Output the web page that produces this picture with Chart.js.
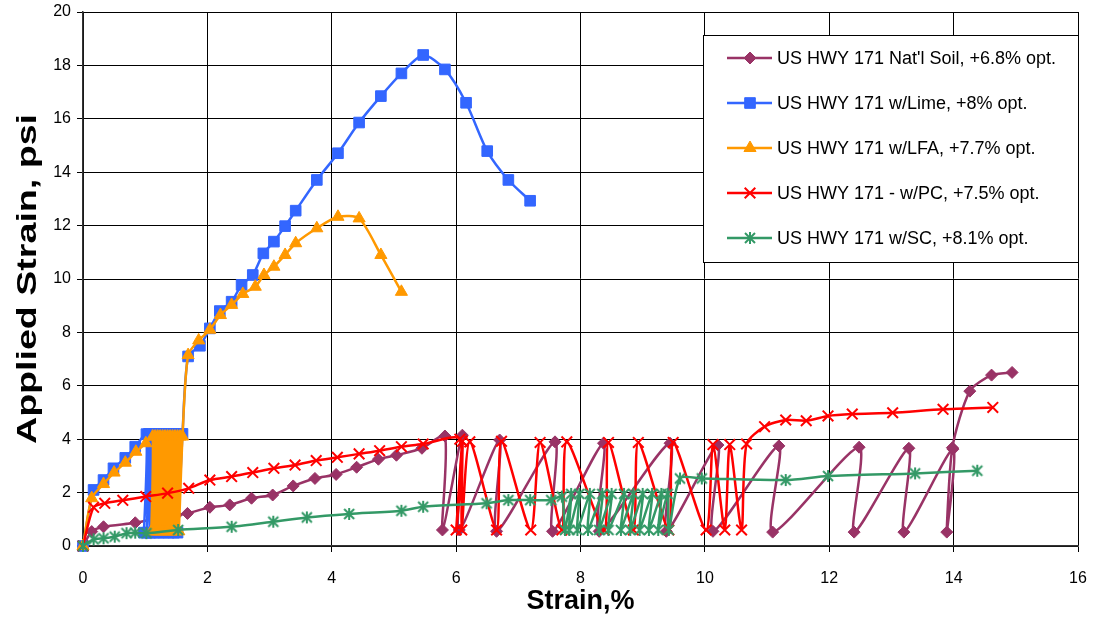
<!DOCTYPE html>
<html>
<head>
<meta charset="utf-8">
<script src="https://cdn.jsdelivr.net/npm/chart.js@4/dist/chart.umd.min.js"></script>
<style>
  html, body { margin: 0; padding: 0; background: #fff; }
  #wrap { width: 1097px; height: 618px; position: relative; }
</style>
</head>
<body>
<div id="wrap"><canvas id="chart" width="1097" height="618"></canvas></div>
<script>
// series labels
const seriesNames = [
    "US HWY 171 Nat'l Soil, +6.8% opt.",
    'US HWY 171 w/Lime, +8% opt.',
    'US HWY 171 w/LFA, +7.7% opt.',
    'US HWY 171 - w/PC, +7.5% opt.',
    'US HWY 171 w/SC, +8.1% opt.'
];

// Nat'l Soil (strain %, applied psi)
const soilX = [0, 0.14, 0.33, 0.84, 1.18, 1.5, 1.68, 2.04, 2.36, 2.71, 3.05, 3.38, 3.73, 4.07, 4.4, 4.75, 5.04, 5.45,
    5.82, 5.78, 6.1, 6.05, 6.7, 6.65, 7.59, 7.55, 8.37, 8.3, 9.44, 9.38, 10.21, 10.13, 11.19, 11.09, 12.48, 12.4,
    13.28, 13.2, 13.99, 13.89, 13.98, 14.26, 14.61, 14.94];
const soilY = [0, 0.54, 0.72, 0.87, 1.04, 1.16, 1.22, 1.45, 1.54, 1.79, 1.91, 2.25, 2.53, 2.68, 2.95, 3.25, 3.4, 3.66,
    4.12, 0.6, 4.15, 0.6, 3.97, 0.55, 3.9, 0.55, 3.85, 0.55, 3.85, 0.55, 3.78, 0.55, 3.75, 0.52, 3.7, 0.52,
    3.66, 0.52, 3.63, 0.52, 3.68, 5.8, 6.4, 6.5];

// w/Lime
const limeX = [0, 0.17, 0.33, 0.49, 0.68, 0.84, 1.02, 0.98, 1.06, 1.03, 1.1, 1.08, 1.16, 1.14, 1.24, 1.22, 1.32, 1.3,
    1.4, 1.38, 1.48, 1.46, 1.54, 1.52, 1.6, 1.69, 1.88, 2.04, 2.2, 2.39, 2.55, 2.73, 2.9, 3.07, 3.25, 3.42, 3.76,
    4.1, 4.44, 4.79, 5.12, 5.47, 5.82, 6.16, 6.5, 6.84, 7.19];
const limeY = [0, 2.1, 2.47, 2.91, 3.3, 3.72, 4.19, 0.5, 4.2, 0.5, 4.2, 0.5, 4.2, 0.5, 4.2, 0.5, 4.2, 0.5,
    4.2, 0.5, 4.2, 0.5, 4.2, 0.5, 4.2, 7.1, 7.5, 8.15, 8.8, 9.15, 9.78, 10.15, 10.96, 11.4, 11.98, 12.56, 13.71,
    14.71, 15.86, 16.85, 17.7, 18.39, 17.85, 16.6, 14.79, 13.71, 12.93];

// w/LFA
const lfaX = [0, 0.14, 0.33, 0.5, 0.68, 0.85, 1.01, 1.12, 1.1, 1.16, 1.14, 1.2, 1.18, 1.24, 1.22, 1.28, 1.26, 1.32,
    1.3, 1.36, 1.34, 1.4, 1.38, 1.44, 1.42, 1.48, 1.46, 1.52, 1.5, 1.56, 1.54, 1.6, 1.69, 1.86, 2.04, 2.21, 2.39,
    2.57, 2.77, 2.91, 3.07, 3.25, 3.42, 3.76, 4.1, 4.44, 4.79, 5.12];
const lfaY = [0, 1.79, 2.32, 2.75, 3.12, 3.53, 3.85, 4.1, 0.55, 4.1, 0.55, 4.1, 0.55, 4.1, 0.55, 4.1, 0.55, 4.1,
    0.55, 4.1, 0.55, 4.1, 0.55, 4.1, 0.55, 4.1, 0.55, 4.1, 0.55, 4.1, 0.55, 4.1, 7.15, 7.7, 8.1, 8.65, 9.03,
    9.44, 9.71, 10.15, 10.46, 10.9, 11.34, 11.9, 12.33, 12.27, 10.9, 9.52];

// w/PC
const pcX = [0, 0.17, 0.35, 0.64, 1.01, 1.36, 1.7, 2.04, 2.39, 2.73, 3.07, 3.41, 3.75, 4.09, 4.44, 4.77, 5.12, 5.47,
    6.06, 6.0, 6.1, 6.09, 6.22, 6.65, 6.73, 7.2, 7.35, 7.7, 7.78, 8.38, 8.45, 8.85, 8.93, 9.42, 9.49, 10.02, 10.13,
    10.32, 10.4, 10.59, 10.67, 10.96, 11.3, 11.63, 11.98, 12.37, 13.02, 13.83, 14.63];
const pcY = [0, 1.45, 1.6, 1.71, 1.85, 1.98, 2.16, 2.47, 2.6, 2.75, 2.91, 3.03, 3.2, 3.32, 3.45, 3.57, 3.72, 3.82,
    4.0, 0.6, 3.92, 0.6, 3.9, 0.6, 3.92, 0.6, 3.88, 0.6, 3.9, 0.6, 3.88, 0.6, 3.88, 0.6, 3.88, 0.6, 3.8,
    0.6, 3.8, 0.6, 3.82, 4.47, 4.72, 4.69, 4.87, 4.94, 4.99, 5.12, 5.19];

// w/SC
const scX = [0, 0.17, 0.33, 0.51, 0.7, 0.84, 1.02, 1.53, 2.39, 3.06, 3.6, 4.28, 5.12, 5.47, 6.49, 6.84, 7.19, 7.53,
    7.7, 7.75, 7.85, 7.82, 7.98, 7.95, 8.15, 8.12, 8.35, 8.3, 8.5, 8.45, 8.7, 8.65, 8.85, 8.8, 9.0, 8.95, 9.15,
    9.1, 9.3, 9.25, 9.4, 9.42, 9.6, 9.95, 11.3, 11.98, 13.38, 14.38];
const scY = [0, 0.25, 0.29, 0.35, 0.48, 0.5, 0.48, 0.6, 0.72, 0.91, 1.07, 1.2, 1.32, 1.47, 1.6, 1.72, 1.72, 1.72,
    1.85, 0.6, 1.95, 0.6, 1.95, 0.6, 1.95, 0.6, 1.95, 0.6, 1.95, 0.6, 1.95, 0.6, 1.95, 0.6, 1.95, 0.6, 1.95,
    0.6, 1.95, 0.6, 1.95, 0.6, 2.53, 2.53, 2.47, 2.62, 2.72, 2.82];

const xTicks = [0, 2, 4, 6, 8, 10, 12, 14, 16];
const yTicks = [0, 2, 4, 6, 8, 10, 12, 14, 16, 18, 20];

const colors = ['#993366', '#3366FF', '#FF9900', '#FF0000', '#339966'];
const fontFamily = '"Liberation Sans", Arial, sans-serif';

function pairs(xs, ys) {
    return xs.map((x, i) => ({ x: x, y: ys[i] }));
}

// excel-style asterisk marker (vertical bar + x)
function makeStar(color) {
    const c = document.createElement('canvas');
    c.width = 14; c.height = 14;
    const g = c.getContext('2d');
    g.strokeStyle = color;
    g.lineWidth = 2;
    g.beginPath();
    g.moveTo(7, 1); g.lineTo(7, 13);
    g.moveTo(2, 2); g.lineTo(12, 12);
    g.moveTo(12, 2); g.lineTo(2, 12);
    g.stroke();
    return c;
}

const starImg = makeStar(colors[4]);

const markers = [
    { pointStyle: 'rectRot', radius: 6, borderWidth: 1 },
    { pointStyle: 'rect', radius: 7.5, borderWidth: 1 },
    { pointStyle: 'triangle', radius: 7, borderWidth: 1 },
    { pointStyle: 'crossRot', radius: 7.5, borderWidth: 2 },
    { pointStyle: starImg, radius: 7, borderWidth: 2 }
];

const seriesData = [pairs(soilX, soilY), pairs(limeX, limeY), pairs(lfaX, lfaY), pairs(pcX, pcY), pairs(scX, scY)];

const datasets = seriesData.map((d, i) => ({
    label: seriesNames[i],
    data: d,
    showLine: true,
    borderColor: colors[i],
    backgroundColor: colors[i],
    borderWidth: 2.5,
    tension: 0.25,
    pointStyle: markers[i].pointStyle,
    pointRadius: markers[i].radius,
    pointBorderWidth: markers[i].borderWidth,
    pointBorderColor: colors[i],
    pointBackgroundColor: colors[i],
    clip: false,
    order: 5 - i
}));

// legend box drawn inside the plot like the original
const boxLegend = {
    id: 'boxLegend',
    afterDraw(chart) {
        const ctx = chart.ctx;
        const left = 703, top = 35, right = 1078, bottom = 262;
        ctx.save();
        ctx.fillStyle = '#fff';
        ctx.fillRect(left, top, right - left, bottom - top);
        ctx.strokeStyle = '#000';
        ctx.lineWidth = 1;
        ctx.strokeRect(left + 0.5, top + 0.5, right - left, bottom - top);
        ctx.font = '18px ' + fontFamily;
        ctx.textBaseline = 'middle';
        seriesNames.forEach((name, i) => {
            const y = 58 + i * 45;
            ctx.strokeStyle = colors[i];
            ctx.lineWidth = 2.5;
            ctx.beginPath();
            ctx.moveTo(727, y);
            ctx.lineTo(772, y);
            ctx.stroke();
            ctx.fillStyle = colors[i];
            ctx.strokeStyle = colors[i];
            ctx.lineWidth = markers[i].borderWidth;
            Chart.helpers.drawPoint(ctx, {
                pointStyle: markers[i].pointStyle,
                radius: markers[i].radius,
                borderWidth: markers[i].borderWidth,
                rotation: 0
            }, 750, y);
            ctx.fillStyle = '#000';
            ctx.fillText(name, 777, y + 1);
        });
        ctx.restore();
    }
};

// y axis title, stretched along the axis like the excel original
const yTitle = {
    id: 'yTitle',
    afterDraw(chart) {
        const ctx = chart.ctx;
        const text = 'Applied Strain, psi';
        ctx.save();
        ctx.font = 'bold 27px ' + fontFamily;
        const w = ctx.measureText(text).width;
        ctx.translate(29, 279);
        ctx.rotate(-Math.PI / 2);
        ctx.scale(330 / w, 1);
        ctx.fillStyle = '#000';
        ctx.textAlign = 'center';
        ctx.textBaseline = 'middle';
        ctx.fillText(text, 0, 0);
        ctx.restore();
    }
};

const ctx = document.getElementById('chart').getContext('2d');
new Chart(ctx, {
    type: 'scatter',
    data: { datasets: datasets },
    options: {
        responsive: false,
        animation: false,
        layout: { padding: { left: 0, right: 19, top: 12, bottom: 0 } },
        plugins: {
            legend: { display: false },
            tooltip: { enabled: false }
        },
        scales: {
            x: {
                type: 'linear',
                min: 0,
                max: 16,
                afterBuildTicks: s => { s.ticks = xTicks.map(v => ({ value: v })); },
                afterFit: s => { s.height = 72; s.paddingLeft = 0; s.paddingRight = 0; },
                grid: { color: '#000', lineWidth: 1, tickLength: 6, drawTicks: true },
                border: { color: '#333', width: 1.5 },
                ticks: {
                    color: '#000',
                    padding: 17,
                    maxRotation: 0,
                    font: { family: fontFamily, size: 16 }
                },
                title: {
                    display: true,
                    text: 'Strain,%',
                    color: '#000',
                    padding: { top: 0, bottom: 0 },
                    font: { family: fontFamily, size: 27, weight: 'bold' }
                }
            },
            y: {
                type: 'linear',
                min: 0,
                max: 20,
                afterBuildTicks: s => { s.ticks = yTicks.map(v => ({ value: v })); },
                afterFit: s => { s.width = 83; s.paddingTop = 0; s.paddingBottom = 0; },
                grid: { color: '#000', lineWidth: 1, tickLength: 6, drawTicks: true },
                border: { color: '#333', width: 1.5 },
                ticks: {
                    color: '#000',
                    padding: 6,
                    font: { family: fontFamily, size: 16 }
                },
                title: { display: false }
            }
        }
    },
    plugins: [boxLegend, yTitle]
});
</script>
</body>
</html>
